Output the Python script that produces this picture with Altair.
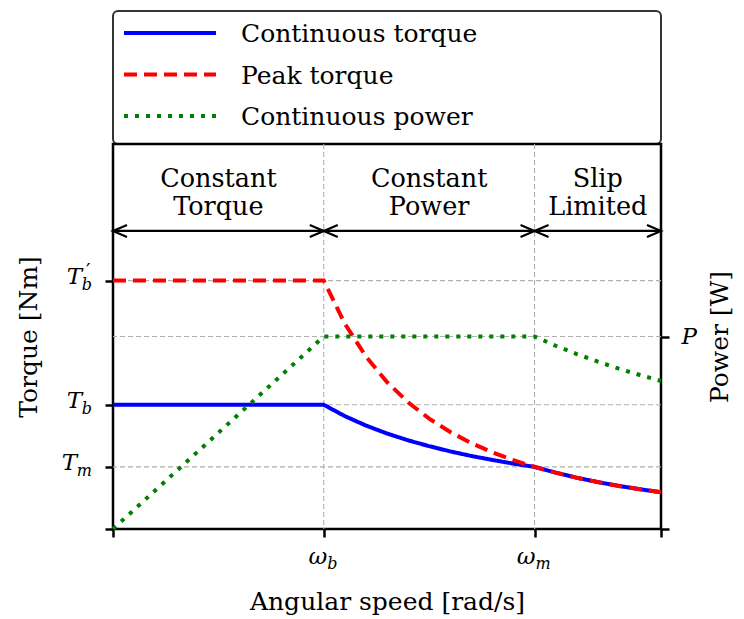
import altair as alt
import pandas as pd

# ---------------- data ----------------
speed = [0.0, 1.0, 1.1, 1.2, 1.3, 1.4, 1.5, 1.6, 1.7, 1.8, 1.9, 2.0,
         2.1, 2.2, 2.3, 2.4, 2.5, 2.6]
cont_torque = [1.0, 1.0, 0.909, 0.833, 0.769, 0.714, 0.667, 0.625, 0.588,
               0.556, 0.526, 0.5, 0.454, 0.413, 0.378, 0.347, 0.32, 0.296]
peak_torque = [2.0, 2.0, 1.653, 1.389, 1.183, 1.020, 0.889, 0.781, 0.692,
               0.617, 0.554, 0.5, 0.454, 0.413, 0.378, 0.347, 0.32, 0.296]
cont_power = [0.0, 1.0, 1.0, 1.0, 1.0, 1.0, 1.0, 1.0, 1.0, 1.0, 1.0, 1.0,
              0.952, 0.909, 0.870, 0.833, 0.8, 0.769]

series_names = ["Continuous torque", "Peak torque", "Continuous power"]
series_colors = ["#0000ff", "#ff0000", "#008000"]

speed_ticks = [0.0, 1.0, 2.0, 2.6]
speed_label_vals = [1.0, 2.0]
speed_label_subs = ["b", "m"]

torque_ticks = [0.0, 0.5, 1.0, 2.0]
torque_label_vals = [2.0, 1.0, 0.5]
torque_label_subs = ["b", "b", "m"]
torque_label_prime = [True, False, False]

power_ticks = [0.0, 1.0]
power_label = "P"

region_bounds = [0.0, 1.0, 2.0, 2.6]
region_line1 = ["Constant", "Constant", "Slip"]
region_line2 = ["Torque", "Power", "Limited"]

grid_speed = [1.0, 2.0]
grid_torque = [0.5, 1.0, 2.0]
grid_power = [1.0]

# ---------------- styling / layout ----------------
FONT = "DejaVu Serif"
W, H = 548, 385
LEG_H = 133
series_dashes = [[1, 0], [13, 7], [4, 7]]
GRID = dict(color="#b0b0b0", strokeDash=[5, 3], strokeWidth=1.1)
ARROW_Y = 2.40
LINE1_Y = 2.75
LINE2_Y = 2.525
SUBW = {"b": 10.0, "m": 15.0}
OMEGA_W = 17.0
TITLE_SIZE = 25
MATH_SIZE = 23
SUB_SIZE = 16

xs = alt.Scale(domain=[0, 2.6], nice=False, zero=False)
ys_t = alt.Scale(domain=[0, 3.1], nice=False)
ys_p = alt.Scale(domain=[0, 2.0], nice=False)
cscale = alt.Scale(domain=series_names, range=series_colors)
dscale = alt.Scale(domain=series_names, range=series_dashes)

tick_style = dict(tickSize=8, tickWidth=2.5, tickColor="black", domain=False,
                  grid=False, titleFont=FONT, titleFontSize=TITLE_SIZE,
                  titleFontWeight="normal", titleColor="black")

x_axis = alt.Axis(values=speed_ticks, labels=False, title="Angular speed [rad/s]",
                  titlePadding=51, **tick_style)
y_axis_left = alt.Axis(values=torque_ticks, labels=False, title="Torque [Nm]",
                       titlePadding=62, orient="left", **tick_style)
y_axis_right = alt.Axis(values=power_ticks, orient="right",
                        labelExpr=f"datum.value == 1 ? '{power_label}' : ''",
                        labelFont=FONT, labelFontSize=MATH_SIZE, labelFontStyle="italic",
                        labelColor="black", labelPadding=12, title="Power [W]",
                        titleAngle=270, titleBaseline="top",
                        titlePadding=11, **tick_style)


def X(field):
    return alt.X(field, scale=xs, axis=x_axis)


def YT(field=None, datum=None):
    if datum is not None:
        return alt.YDatum(datum, scale=ys_t, axis=y_axis_left)
    return alt.Y(field, scale=ys_t, axis=y_axis_left)


def YP(field):
    return alt.Y(field, scale=ys_p, axis=y_axis_right)


n = len(speed)
df_t = pd.DataFrame({"speed": speed * 2,
                     "value": cont_torque + peak_torque,
                     "series": [series_names[0]] * n + [series_names[1]] * n})
df_p = pd.DataFrame({"speed": speed, "value": cont_power,
                     "series": [series_names[2]] * n})

# grid
grid_x = alt.Chart(pd.DataFrame({"v": grid_speed})).mark_rule(**GRID).encode(
    x=X("v:Q"))
grid_t = alt.Chart(pd.DataFrame({"v": grid_torque})).mark_rule(**GRID).encode(
    y=YT("v:Q"))
grid_p = alt.Chart(pd.DataFrame({"v": grid_power})).mark_rule(**GRID).encode(
    y=YP("v:Q"))

torque_lines = alt.Chart(df_t).mark_line(strokeWidth=4, strokeCap="butt").encode(
    x=X("speed:Q"),
    y=YT("value:Q"),
    color=alt.Color("series:N", scale=cscale, legend=None),
    strokeDash=alt.StrokeDash("series:N", scale=dscale, legend=None),
)

power_line = alt.Chart(df_p).mark_line(strokeWidth=4, strokeCap="butt").encode(
    x=X("speed:Q"),
    y=YP("value:Q"),
    color=alt.Color("series:N", scale=cscale, legend=None),
    strokeDash=alt.StrokeDash("series:N", scale=dscale, legend=None),
)

# region arrows
df_arr = pd.DataFrame({"a": region_bounds[:-1], "b": region_bounds[1:]})
arrow_rule = alt.Chart(df_arr).mark_rule(color="black", strokeWidth=2.2).encode(
    x=X("a:Q"), x2="b:Q", y=YT(datum=ARROW_Y))
head_left = alt.Chart(df_arr).mark_point(
    shape="M1.75,-0.75L0,0L1.75,0.75", size=256, filled=False, color="black",
    strokeWidth=2.2, opacity=1).encode(x=X("a:Q"), y=YT(datum=ARROW_Y))
head_right = alt.Chart(df_arr).mark_point(
    shape="M-1.75,-0.75L0,0L-1.75,0.75", size=256, filled=False, color="black",
    strokeWidth=2.2, opacity=1).encode(x=X("b:Q"), y=YT(datum=ARROW_Y))

df_reg = pd.DataFrame({
    "mid": [(a + b) / 2 for a, b in zip(region_bounds[:-1], region_bounds[1:])],
    "l1": region_line1, "l2": region_line2})
reg_text1 = alt.Chart(df_reg).mark_text(
    font=FONT, fontSize=25.5, align="center", baseline="alphabetic", color="black").encode(
    x=X("mid:Q"), y=YT(datum=LINE1_Y), text="l1:N")
reg_text2 = alt.Chart(df_reg).mark_text(
    font=FONT, fontSize=25.5, align="center", baseline="alphabetic", color="black").encode(
    x=X("mid:Q"), y=YT(datum=LINE2_Y), text="l2:N")

# tick labels with subscripts (text marks placed through the scales)
label_layers = []
for val, sub, prime in zip(torque_label_vals, torque_label_subs, torque_label_prime):
    d = pd.DataFrame({"x": [speed_ticks[0]], "y": [val], "main": ["T"],
                      "sub": [sub], "pr": ["\u2032"]})
    sw = SUBW[sub]
    enc = dict(x=X("x:Q"), y=YT("y:Q"))
    label_layers.append(alt.Chart(d).mark_text(
        font=FONT, fontSize=MATH_SIZE, fontStyle="italic", align="right",
        baseline="alphabetic", dx=-(21 + sw), dy=3, color="black").encode(
        text="main:N", **enc))
    label_layers.append(alt.Chart(d).mark_text(
        font=FONT, fontSize=SUB_SIZE, fontStyle="italic", align="right",
        baseline="alphabetic", dx=-21, dy=9, color="black").encode(
        text="sub:N", **enc))
    if prime:
        label_layers.append(alt.Chart(d).mark_text(
            font=FONT, fontSize=20, align="left",
            baseline="alphabetic", dx=-(21 + sw) + 4, dy=-3, color="black").encode(
            text="pr:N", **enc))

for val, sub in zip(speed_label_vals, speed_label_subs):
    d = pd.DataFrame({"x": [val], "y": [0.0], "main": ["\u03c9"], "sub": [sub]})
    sw = SUBW[sub]
    total = OMEGA_W + sw
    right = -total / 2 + OMEGA_W
    enc = dict(x=X("x:Q"), y=YT("y:Q"))
    label_layers.append(alt.Chart(d).mark_text(
        font=FONT, fontSize=MATH_SIZE, fontStyle="italic", align="right",
        baseline="alphabetic", dx=right, dy=35, color="black").encode(
        text="main:N", **enc))
    label_layers.append(alt.Chart(d).mark_text(
        font=FONT, fontSize=SUB_SIZE, fontStyle="italic", align="left",
        baseline="alphabetic", dx=right, dy=40, color="black").encode(
        text="sub:N", **enc))

torque_group = alt.layer(grid_x, grid_t, torque_lines, arrow_rule, head_left,
                         head_right, reg_text1, reg_text2, *label_layers)
power_group = alt.layer(grid_p, power_line)

main = alt.layer(torque_group, power_group).resolve_scale(y="independent").properties(
    width=W, height=H,
    view=alt.ViewBackground(stroke="black", strokeWidth=2.5, fill="white"))

# legend panel
leg_df = pd.DataFrame({"series": series_names})
leg_y = alt.Y("series:N", scale=alt.Scale(type="point", domain=series_names,
                                          range=[22, 105], padding=0), axis=None)
leg_lines = alt.Chart(leg_df).mark_rule(strokeWidth=4, strokeCap="butt").encode(
    y=leg_y, x=alt.value(11), x2=alt.value(103),
    color=alt.Color("series:N", scale=cscale, legend=None),
    strokeDash=alt.StrokeDash("series:N", scale=dscale, legend=None))
leg_text = alt.Chart(leg_df).mark_text(
    align="left", baseline="middle", font=FONT, fontSize=25, color="black",
    dy=1).encode(y=leg_y, x=alt.value(128), text="series:N")
legend_panel = alt.layer(leg_lines, leg_text).properties(
    width=W, height=LEG_H,
    view=alt.ViewBackground(stroke="#333333", strokeWidth=2, cornerRadius=5,
                            fill="white"))

chart = alt.vconcat(legend_panel, main, spacing=0, bounds="flush").properties(
    padding={"left": 15, "top": 10, "right": 5, "bottom": 5},
    background="white",
).configure(font=FONT)

chart.save("out.html", embed_options={"renderer": "svg", "actions": False})
